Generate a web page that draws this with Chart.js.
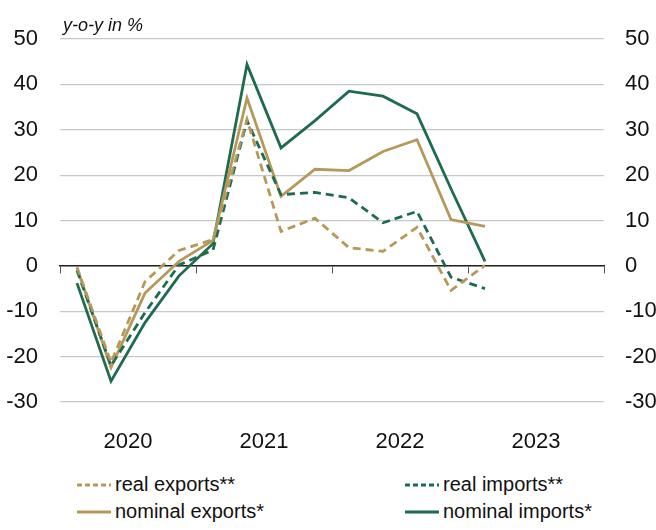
<!DOCTYPE html>
<html>
<head>
<meta charset="utf-8">
<script src="https://cdn.jsdelivr.net/npm/chart.js@4.4.1/dist/chart.umd.min.js"></script>
<style>
  body { margin: 0; background: #fff; }
  #wrap { position: relative; width: 656px; height: 530px; font-family: 'Liberation Sans', Arial, sans-serif; }
  #legend { position: absolute; left: 0; top: 470px; width: 656px; height: 60px; font-size: 20px; color: #111; }
  .item { position: absolute; display: flex; align-items: center; white-space: nowrap; }
  .item svg { margin-right: 4px; }
</style>
</head>
<body>
<div id="wrap">
  <canvas id="myChart" width="656" height="465" style="width:656px;height:465px"></canvas>
  <div id="legend"></div>
</div>
<script>
// quarterly data, 2020Q1 .. 2023Q1 (y-o-y in %)
const quarters = ['2020Q1', '2020Q2', '2020Q3', '2020Q4', '2021Q1', '2021Q2', '2021Q3', '2021Q4',
                  '2022Q1', '2022Q2', '2022Q3', '2022Q4', '2023Q1'];
const years = ['2020', '2021', '2022', '2023'];
const realExports    = [-0.3, -21.3, -3.5, 3.4, 5.8, 32.3, 7.6, 10.5, 4.0, 3.2, 8.5, -5.4, 0.1];
const realImports    = [-1.0, -22.0, -10.3, 0.2, 3.5, 32.0, 15.7, 16.2, 15.0, 9.5, 12.0, -2.5, -5.0];
const nominalExports = [-0.5, -22.4, -6.0, 1.0, 5.6, 37.0, 15.3, 21.3, 21.0, 25.2, 27.8, 10.2, 8.7];
const nominalImports = [-3.8, -25.4, -12.5, -2.2, 4.9, 44.4, 26.0, 32.0, 38.5, 37.4, 33.5, 17.0, 1.0];
const yTicks = { min: -30, max: 50, step: 10 };

const GOLD = '#B5995A';
const GREEN = '#1E6B4F';
const FONT = "'Liberation Sans', Arial, sans-serif";

// put each quarter in the middle of its slot on a 0..16 axis
function pts(arr) {
    return arr.map((v, i) => ({ x: i + 0.5, y: v }));
}

const series = [
    { label: 'real exports**', data: realExports, color: GOLD, dash: [8, 5] },
    { label: 'real imports**', data: realImports, color: GREEN, dash: [8, 5] },
    { label: 'nominal exports*', data: nominalExports, color: GOLD, dash: [] },
    { label: 'nominal imports*', data: nominalImports, color: GREEN, dash: [] },
];

const data = {
    datasets: series.map(s => ({
        label: s.label,
        data: pts(s.data),
        borderColor: s.color,
        backgroundColor: s.color,
        borderDash: s.dash,
        borderWidth: 2.8,
        pointRadius: 0,
        tension: 0,
        xAxisID: 'x',
        yAxisID: 'y',
    })),
};

// small italic unit label above the plot
const unitLabel = {
    id: 'unitLabel',
    afterDraw(chart) {
        const c = chart.ctx;
        c.save();
        c.font = "italic 18px " + FONT;
        c.fillStyle = '#111';
        c.textBaseline = 'alphabetic';
        c.fillText('y-o-y in %', chart.chartArea.left + 3, 31);
        c.restore();
    }
};

const yCommon = {
    type: 'linear',
    min: yTicks.min,
    max: yTicks.max,
    border: { display: false },
    ticks: { stepSize: yTicks.step, color: '#111', font: { family: FONT, size: 22 } },
};

const config = {
    type: 'line',
    data,
    options: {
        responsive: false,
        animation: false,
        layout: { padding: { top: 39, left: 0, right: 0, bottom: 0 } },
        plugins: { legend: { display: false }, tooltip: { enabled: false } },
        scales: {
            x: {
                type: 'linear',
                position: { y: 0 },
                min: 0,
                max: 16,
                border: { display: true, color: '#222', width: 1.5 },
                grid: { drawOnChartArea: false, drawTicks: true, tickLength: 7, color: '#555' },
                ticks: { stepSize: 4, callback: () => '', font: { size: 1 } },
            },
            xl: {
                type: 'category',
                labels: years,
                offset: true,
                position: 'bottom',
                border: { display: false },
                grid: { display: false, drawTicks: false },
                ticks: { padding: 27, color: '#111', font: { family: FONT, size: 22 } },
                afterFit: s => { s.height = 63; },
            },
            y: Object.assign({}, yCommon, {
                position: 'left',
                grid: { color: '#C8C8C8', lineWidth: 1.2, drawTicks: false },
                ticks: Object.assign({}, yCommon.ticks, { padding: 22 }),
                afterFit: s => { s.width = 60; },
            }),
            y2: Object.assign({}, yCommon, {
                position: 'right',
                grid: { display: false, drawTicks: false },
                ticks: Object.assign({}, yCommon.ticks, { padding: 21 }),
                afterFit: s => { s.width = 52; },
            }),
        },
    },
    plugins: [unitLabel],
};

let ctx = document.getElementById('myChart').getContext('2d');
let chart = new Chart(ctx, config);

// legend in two columns under the chart
const legendPos = [[77, 17], [405, 17], [77, 44], [405, 44]];
const legend = document.getElementById('legend');
series.forEach((s, i) => {
    const el = document.createElement('div');
    el.className = 'item';
    el.style.left = legendPos[i][0] + 'px';
    el.style.top = (legendPos[i][1] - 14) + 'px';
    const dash = s.dash.length ? 'stroke-dasharray="5,3"' : '';
    el.innerHTML = '<svg width="34" height="6"><line x1="0" y1="3" x2="34" y2="3" stroke="' + s.color +
        '" stroke-width="2.8" ' + dash + '/></svg><span>' + s.label + '</span>';
    legend.appendChild(el);
});
</script>
</body>
</html>
